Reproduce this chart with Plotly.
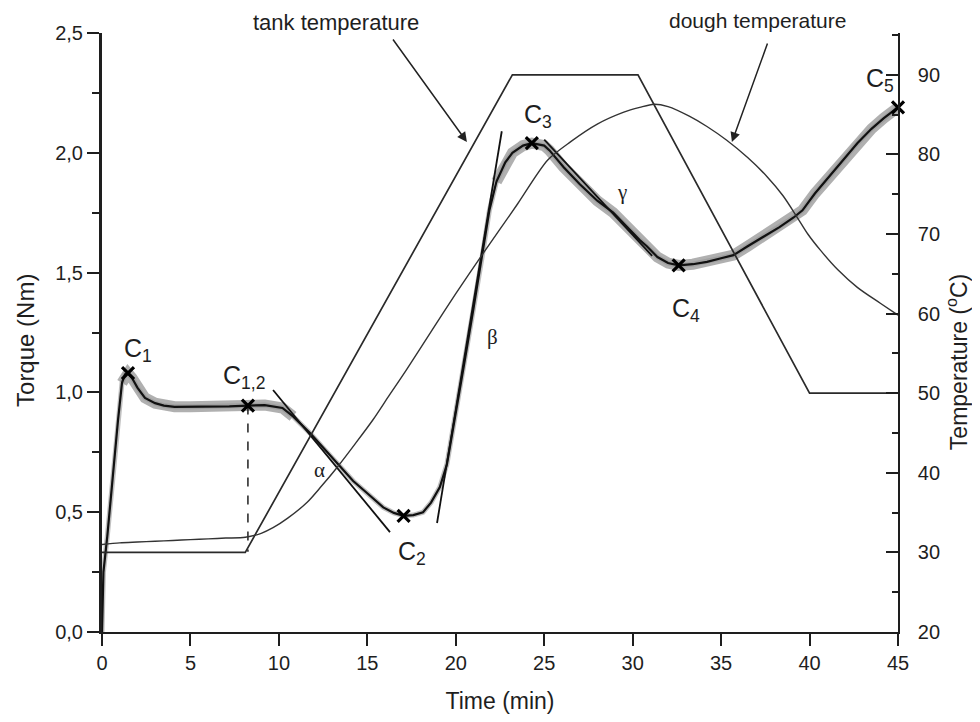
import plotly.graph_objects as go
import numpy as np

# ---------------- data ----------------
torque_t = [0, 0.08, 0.3, 0.6, 0.9, 1.13, 1.3, 1.47, 1.7, 2.0, 2.43, 3.0, 3.5, 4.1, 5.0, 6.2,
            7.2, 8.25, 9.2, 10.2, 10.8, 11.76, 12.6, 13.45, 14.2, 14.98, 15.9, 16.5, 17.05,
            17.6, 18.15, 18.6, 19.1, 19.5, 20.0, 20.5, 21.0, 21.5, 21.9, 22.3, 22.8, 23.2,
            23.8, 24.3, 25.0, 25.3, 26.1, 27.0, 28.0, 28.9, 29.8, 30.4, 30.8, 31.4, 32.0,
            32.6, 33.4, 34.2, 35.0, 35.7, 36.5, 37.4, 38.3, 39.1, 39.6, 40.3, 41.0, 41.8,
            42.7, 43.5, 44.2, 45.0]
torque_nm = [0.0, 0.25, 0.40, 0.65, 0.88, 1.04, 1.075, 1.08, 1.06, 1.02, 0.977, 0.955, 0.945,
             0.94, 0.94, 0.94, 0.942, 0.945, 0.947, 0.935, 0.90, 0.83, 0.76, 0.69, 0.63, 0.58,
             0.52, 0.497, 0.485, 0.488, 0.50, 0.54, 0.605, 0.70, 0.91, 1.13, 1.35, 1.57, 1.76,
             1.88, 1.96, 2.00, 2.03, 2.04, 2.03, 2.01, 1.94, 1.87, 1.80, 1.75, 1.68, 1.636,
             1.61, 1.565, 1.54, 1.53, 1.535, 1.545, 1.56, 1.573, 1.61, 1.65, 1.69, 1.73, 1.76,
             1.83, 1.89, 1.96, 2.04, 2.10, 2.145, 2.19]

tank_t = [0, 8.1, 23.2, 30.3, 40.0, 45.0]
tank_c = [30, 30, 90, 90, 50, 50]

dough_t = [0, 1, 2, 3, 4, 5, 6, 7, 8.1, 9.0, 9.67, 10.5, 11.6, 12.4, 13.3, 14.3, 15.3, 16.2,
           17.2, 18.65, 20.0, 21.4, 22.5, 23.5, 25.2, 26.5, 28.0, 29.5, 30.4, 31.2, 32.0, 33.2,
           34.2, 35.3, 36.5, 37.6, 38.5, 39.3, 39.9, 40.6, 41.6, 42.7, 44.0, 45.0]
dough_c = [31.0, 31.2, 31.3, 31.4, 31.5, 31.6, 31.7, 31.8, 31.9, 32.4, 33.1, 34.3, 36.3, 38.3,
           40.7, 43.6, 46.6, 49.6, 52.9, 57.9, 62.5, 67.1, 70.6, 73.8, 79.3, 81.6, 83.8, 85.3,
           85.9, 86.3, 86.0, 84.8, 83.5, 81.8, 79.6, 77.2, 74.8, 72.1, 70.0, 68.0, 65.5, 63.3,
           61.3, 59.8]

# characteristic points
pt_names = ["C<sub>1</sub>", "C<sub>1,2</sub>", "C<sub>2</sub>", "C<sub>3</sub>", "C<sub>4</sub>", "C<sub>5</sub>"]
pt_t = [1.47, 8.25, 17.05, 24.3, 32.6, 45.0]
pt_nm = [1.08, 0.945, 0.485, 2.04, 1.53, 2.19]
lbl_t = [2.03, 8.03, 17.5, 24.65, 33.0, 44.0]
lbl_nm = [1.177, 1.064, 0.33, 2.153, 1.344, 2.304]

# slope lines alpha, beta, gamma
alpha_t, alpha_nm = [9.67, 16.28], [1.01, 0.417]
beta_t, beta_nm = [18.94, 22.6], [0.455, 2.09]
gamma_t, gamma_nm = [25.0, 31.1], [2.055, 1.57]
greek = ["α", "β", "γ"]
greek_t = [12.3, 22.05, 29.4]
greek_nm = [0.676, 1.231, 1.836]

# dashed marker line at C1,2
dash_t, dash_nm = [8.25, 8.25], [0.945, 0.335]

x_ticks = [0, 5, 10, 15, 20, 25, 30, 35, 40, 45]

# ---------------- figure ----------------
FONT = "Liberation Sans, Arial, sans-serif"
INK = "#1e1e1e"

fig = go.Figure()

tt = np.array(torque_t)
tn = np.array(torque_nm)
for lo, hi in [(1.0, 11.6), (22.3, 45.0)]:
    m = (tt >= lo) & (tt <= hi)
    fig.add_trace(go.Scatter(x=tt[m], y=tn[m], mode="lines",
                             line=dict(color="rgba(150,150,150,0.75)", width=11),
                             hoverinfo="skip", showlegend=False))
fig.add_trace(go.Scatter(x=torque_t, y=torque_nm, mode="lines",
                         line=dict(color="rgba(150,150,150,0.6)", width=5),
                         hoverinfo="skip", showlegend=False))
fig.add_trace(go.Scatter(x=torque_t, y=torque_nm, mode="lines",
                         line=dict(color="#111", width=2.2), showlegend=False))

for xs, ys in [(alpha_t, alpha_nm), (beta_t, beta_nm), (gamma_t, gamma_nm)]:
    fig.add_trace(go.Scatter(x=xs, y=ys, mode="lines", line=dict(color="#111", width=1.8),
                             showlegend=False))

fig.add_trace(go.Scatter(x=dash_t, y=dash_nm, mode="lines",
                         line=dict(color="#111", width=1.4, dash="dash"), showlegend=False))

fig.add_trace(go.Scatter(x=tank_t, y=tank_c, mode="lines", yaxis="y2",
                         line=dict(color="#2a2a2a", width=1.7), showlegend=False))
fig.add_trace(go.Scatter(x=dough_t, y=dough_c, mode="lines", yaxis="y2",
                         line=dict(color="#333", width=1.4, shape="spline", smoothing=0.8),
                         showlegend=False))

fig.add_trace(go.Scatter(x=pt_t, y=pt_nm, mode="markers", cliponaxis=False,
                         marker=dict(symbol="x-thin", size=12, line=dict(color="#000", width=3.2)),
                         showlegend=False))

annotations = []
for name, x, y in zip(pt_names, lbl_t, lbl_nm):
    annotations.append(dict(x=x, y=y, xref="x", yref="y", text=name, showarrow=False,
                            xanchor="center", yanchor="middle",
                            font=dict(family=FONT, size=25, color=INK)))
for g, x, y in zip(greek, greek_t, greek_nm):
    annotations.append(dict(x=x, y=y, xref="x", yref="y", text=g, showarrow=False,
                            xanchor="center", yanchor="middle",
                            font=dict(family="Liberation Serif, Times New Roman, serif", size=21, color=INK)))

annotations.append(dict(x=0.294, y=1.0167, xref="paper", yref="paper", text="tank temperature",
                        xanchor="center", yanchor="middle",
                        showarrow=False, font=dict(family=FONT, size=22, color=INK)))
annotations.append(dict(x=0.823, y=1.0217, xref="paper", yref="paper", text="dough temperature",
                        xanchor="center", yanchor="middle",
                        showarrow=False, font=dict(family=FONT, size=21, color=INK)))
annotations.append(dict(x=20.63, y=2.045, xref="x", yref="y", ax=16.39, ay=2.479,
                        axref="x", ayref="y", text="", showarrow=True, arrowhead=2,
                        arrowsize=1.3, arrowwidth=1.5, arrowcolor="#222"))
annotations.append(dict(x=35.61, y=2.045, xref="x", yref="y", ax=37.65, ay=2.462,
                        axref="x", ayref="y", text="", showarrow=True, arrowhead=2,
                        arrowsize=1.3, arrowwidth=1.5, arrowcolor="#222"))
# axis titles for the two vertical axes
annotations.append(dict(x=-0.0955, y=0.4875, xref="paper", yref="paper", text="Torque (Nm)",
                        textangle=-90, xanchor="center", yanchor="middle", showarrow=False,
                        font=dict(family=FONT, size=24, color=INK)))
annotations.append(dict(x=1.0745, y=0.451, xref="paper", yref="paper",
                        text="Temperature (<sup>o</sup>C)",
                        textangle=-90, xanchor="center", yanchor="middle", showarrow=False,
                        font=dict(family=FONT, size=23, color=INK)))

fig.update_layout(
    width=980, height=722,
    margin=dict(l=94, r=90, t=25, b=98),
    paper_bgcolor="white", plot_bgcolor="white",
    separators=",.",
    font=dict(family=FONT, color=INK),
    annotations=annotations,
    xaxis=dict(range=[0, 45], tickvals=x_ticks, ticks="outside", ticklen=12, tickwidth=2,
               tickcolor=INK, showline=True, linecolor=INK, linewidth=2, showgrid=False,
               zeroline=False, tickfont=dict(size=20, family=FONT, color=INK),
               title=dict(text="Time (min)", font=dict(size=23, family=FONT, color=INK),
                          standoff=20)),
    yaxis=dict(range=[0, 2.5], dtick=0.5, tick0=0, tickformat=".1f", ticks="outside",
               ticklen=12, tickwidth=2, tickcolor=INK, showline=True, linecolor=INK,
               linewidth=3, showgrid=False, zeroline=False,
               minor=dict(dtick=0.25, tick0=0, ticks="outside", ticklen=7, tickwidth=2,
                          tickcolor=INK, showgrid=False),
               tickfont=dict(size=20, family=FONT, color=INK)),
    yaxis2=dict(range=[20, 95.25], overlaying="y", side="right", anchor="x",
                tickvals=[20, 30, 40, 50, 60, 70, 80, 90], ticks="inside", ticklen=12,
                tickwidth=2, tickcolor=INK, showline=True, linecolor=INK, linewidth=1.6,
                showgrid=False, zeroline=False, ticklabelstandoff=14,
                minor=dict(tickvals=[25, 35, 45, 55, 65, 75, 85, 95], ticks="inside",
                           ticklen=6, tickwidth=2, tickcolor=INK, showgrid=False),
                tickfont=dict(size=20, family=FONT, color=INK)),
)

fig.write_html("out.html")
